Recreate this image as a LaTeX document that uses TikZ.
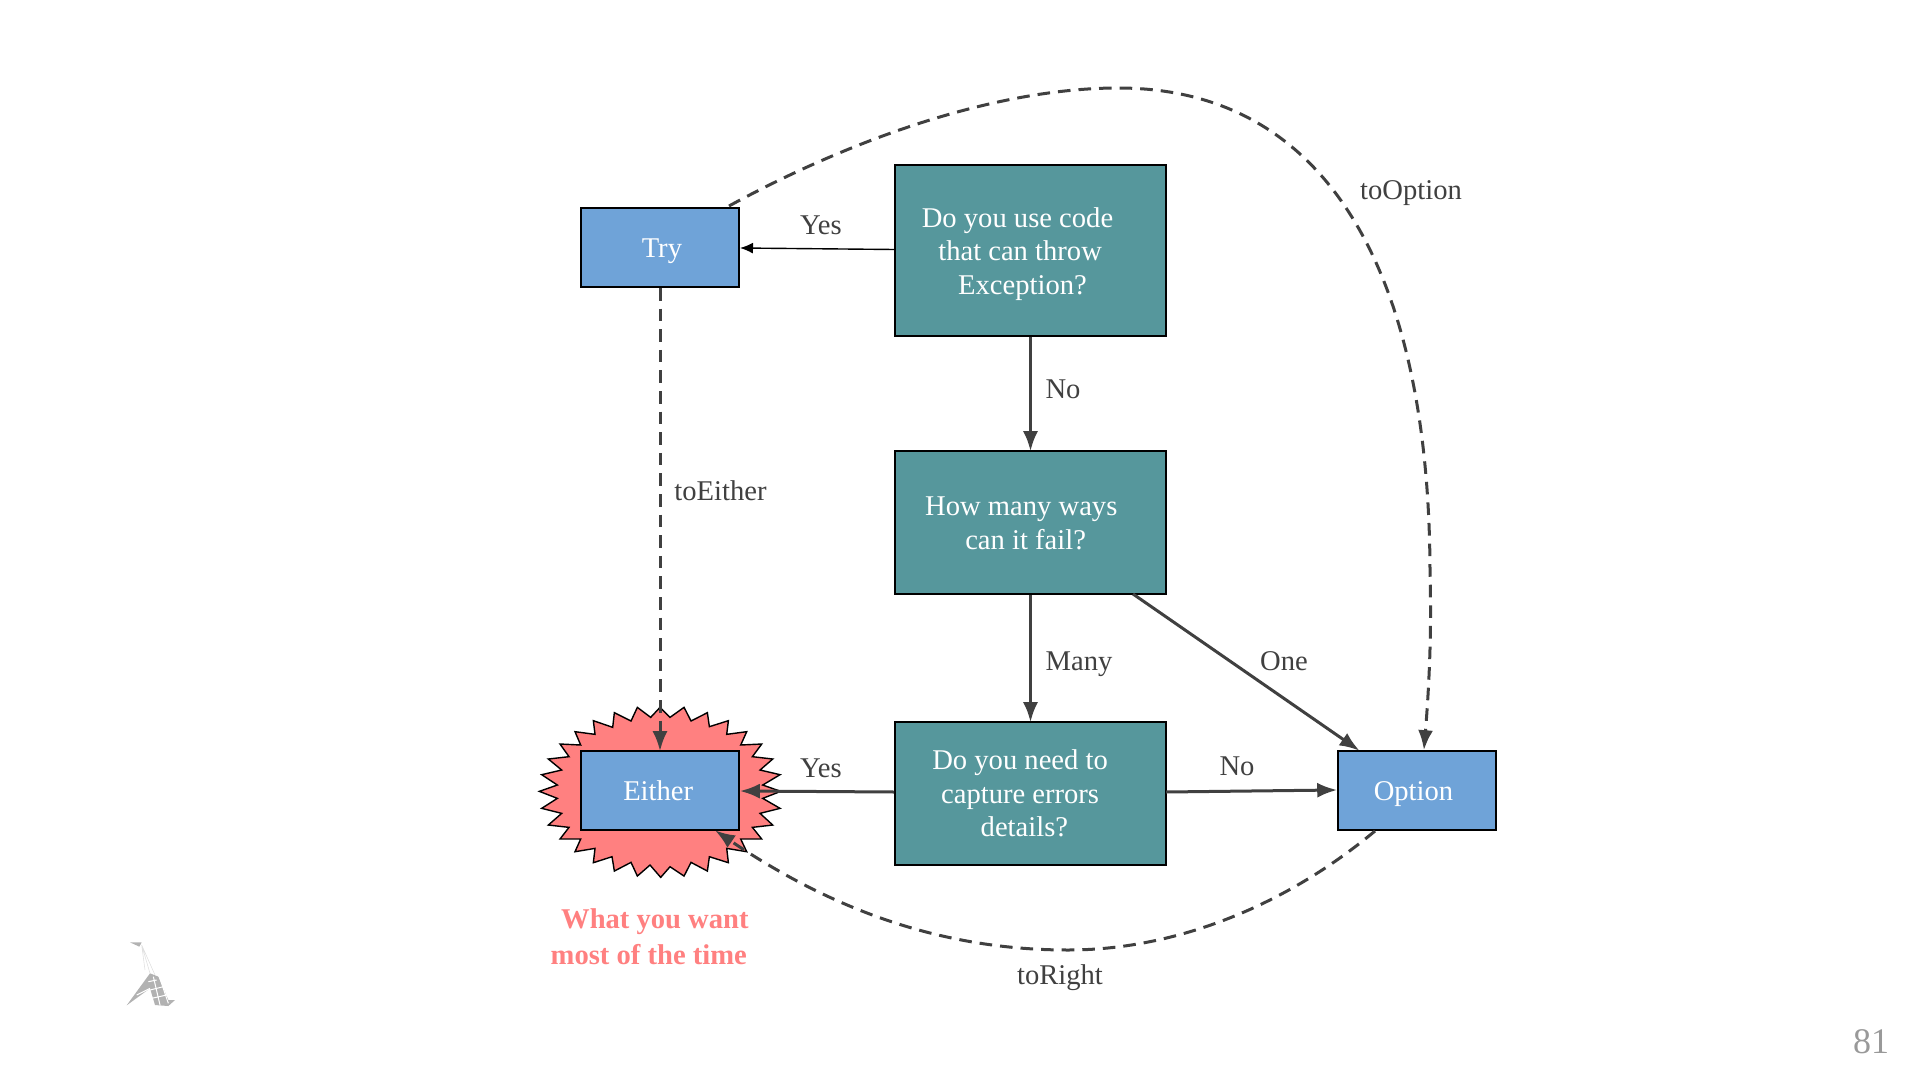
\documentclass[tikz,border=0pt]{standalone}
\usepackage{fontspec}
\setmainfont{Liberation Serif}
\usetikzlibrary{arrows.meta}
\definecolor{teal1}{HTML}{56979C}
\definecolor{blue1}{HTML}{6FA3D8}
\definecolor{star1}{HTML}{FF8080}
\definecolor{line1}{HTML}{404040}
\newcommand{\boxline}[3]{\mbox{\raisebox{#2}[0.68em][0pt]{#3}\hspace{#1}}}
\tikzset{
  box/.style={draw=black,line width=1pt,text=white,align=center,inner sep=0pt,font=\fontsize{14.3}{16.8}\selectfont},
  question/.style={box,fill=teal1,minimum width=135.5pt,anchor=north west},
  choice/.style={box,fill=blue1,minimum width=79pt,minimum height=39.5pt,anchor=north west},
  lbl/.style={text=line1,font=\fontsize{14.3}{16.8}\selectfont,inner sep=0pt},
  conn/.style={draw=line1,line width=1.5pt,-{Latex[length=10pt,width=7.5pt]},shorten >=-0.6pt},
  thinconn/.style={draw=black,line width=0.7pt,-{Latex[length=6.5pt,width=5.5pt]}},
  dconn/.style={conn,dash pattern=on 6.3pt off 4pt},
}
\begin{document}
\begin{tikzpicture}[x=0.5pt,y=-0.5pt]
\useasboundingbox (0,0) rectangle (1920,1080);
% starburst
\begin{scope}[shift={(520,690)},x=0.1667pt,y=-0.1667pt]
\draw[fill=star1,draw=black,line width=0.7pt,line join=miter]
 (420,52)--(450,82)--(492,52)--(513,93)--(562,68)--(568,110)--(625,92)--(620,133)--(680,125)--(662,165)--(725,162)--(697,200)--(758,207)--(720,240)--(780,254)--(728,285)--(782,304)--(728,325)--(780,355)--(720,370)--(758,405)--(697,412)--(725,447)--(662,447)--(680,485)--(620,475)--(625,518)--(568,500)--(562,543)--(513,517)--(492,558)--(450,530)--(422,562)--(390,525)--(352,558)--(333,517)--(283,543)--(276,500)--(220,518)--(225,475)--(165,485)--(182,447)--(120,447)--(147,412)--(85,405)--(125,370)--(65,355)--(112,325)--(58,304)--(112,285)--(65,254)--(125,240)--(85,207)--(147,200)--(120,162)--(182,165)--(165,125)--(225,133)--(220,92)--(278,112)--(283,68)--(333,93)--(352,52)--(392,82)--cycle;
\end{scope}
% boxes
\node[question,minimum height=85.5pt] (q1) at (894,164.5) {\boxline{13pt}{0pt}{Do you use code}\\\boxline{10.4pt}{0pt}{that can throw}\\\boxline{8pt}{0pt}{Exception?}};
\node[question,minimum height=71.5pt] (q2) at (894,450) {\boxline{9.2pt}{0pt}{How many ways}\\\boxline{4.9pt}{0pt}{can it fail?}};
\node[question,minimum height=71.5pt] (q3) at (894,721) {\boxline{10.4pt}{0pt}{Do you need to}\\\boxline{10.4pt}{0pt}{capture errors}\\\boxline{6.1pt}{0pt}{details?}};
\node[choice] (try) at (580,207) {\boxline{-1.9pt}{0pt}{Try}};
\node[choice] (either) at (580,750) {\boxline{1.8pt}{0pt}{Either}};
\node[choice] (option) at (1336.5,750) {\boxline{3pt}{0pt}{Option}};
% connector ends
\coordinate (q1w) at (894,249.5);
\coordinate (tryE) at (740,248);
\coordinate (q2se) at (1133,594);
\coordinate (optN) at (1358.5,750);
\coordinate (q3e) at (1166,792);
\coordinate (optW) at (1336,790);
\coordinate (q3w) at (894,792);
\coordinate (eitherE) at (741,791);
\coordinate (tryT) at (729,206);
\coordinate (optT) at (1424,749);
\coordinate (optB) at (1375,831);
\coordinate (eitherB) at (716,831);
% connectors
\draw[thinconn] (q1w) -- (tryE);
\draw[conn] (q1.south) -- (q2.north);
\draw[conn] (q2.south) -- (q3.north);
\draw[conn] (q2se) -- (optN);
\draw[conn] (q3e) -- (optW);
\draw[conn] (q3w) -- (eitherE);
\draw[dconn] (try.south) -- (either.north);
\draw[dconn] (tryT) .. controls (850,140) and (995,88) .. (1118,88)
   .. controls (1332,88) and (1430,280) .. (1430,575)
   .. controls (1432,640) and (1428,700) .. (optT);
\draw[dconn] (optB) .. controls (1280,910) and (1170,950) .. (1068,950)
   .. controls (950,950) and (840,915) .. (eitherB);
% labels
\node[lbl] (l1) at (821,225.5) {Yes};
\node[lbl] (l2) at (1063,389.5) {No};
\node[lbl] (l3) at (720.5,491) {toEither};
\node[lbl] (l4) at (1079,664.5) {Many};
\node[lbl] (l5) at (1284,661.5) {One};
\node[lbl] (l6) at (1237,766.5) {No};
\node[lbl] (l7) at (821,768.5) {Yes};
\node[lbl] (l8) at (1411,193.5) {toOption};
\node[lbl] (l9) at (1060,977.5) {toRight};
\node[text=star1,align=center,inner sep=0pt,font=\fontsize{14.3}{17.8}\selectfont\bfseries] (want) at (650,936.5) {\boxline{-4.9pt}{0pt}{What you want}\\\boxline{1.2pt}{0pt}{most of the time}};
\node[text=black!40,inner sep=0pt,font=\fontsize{18}{20}\selectfont] (page) at (1871,1042) {81};
% logo
\begin{scope}[shift={(100,920)},x=0.1667pt,y=-0.1667pt]
\draw[black!12,line width=0.3pt] (125,75)--(150,160) (125,75)--(165,165) (125,75)--(135,150);
\fill[black!30] (90,67)--(125,67)--(118,80)--cycle;
\fill[black!30] (80,256)--(150,160)--(175,170)--(205,240)--(225,240)--(205,258)--(165,255)--(150,205)--cycle;
\draw[white,line width=0.5pt] (145,185)--(170,180) (150,210)--(190,200) (155,235)--(200,225) (160,170)--(180,255) (178,170)--(205,250) (110,225)--(150,205);
\end{scope}
\end{tikzpicture}
\end{document}
